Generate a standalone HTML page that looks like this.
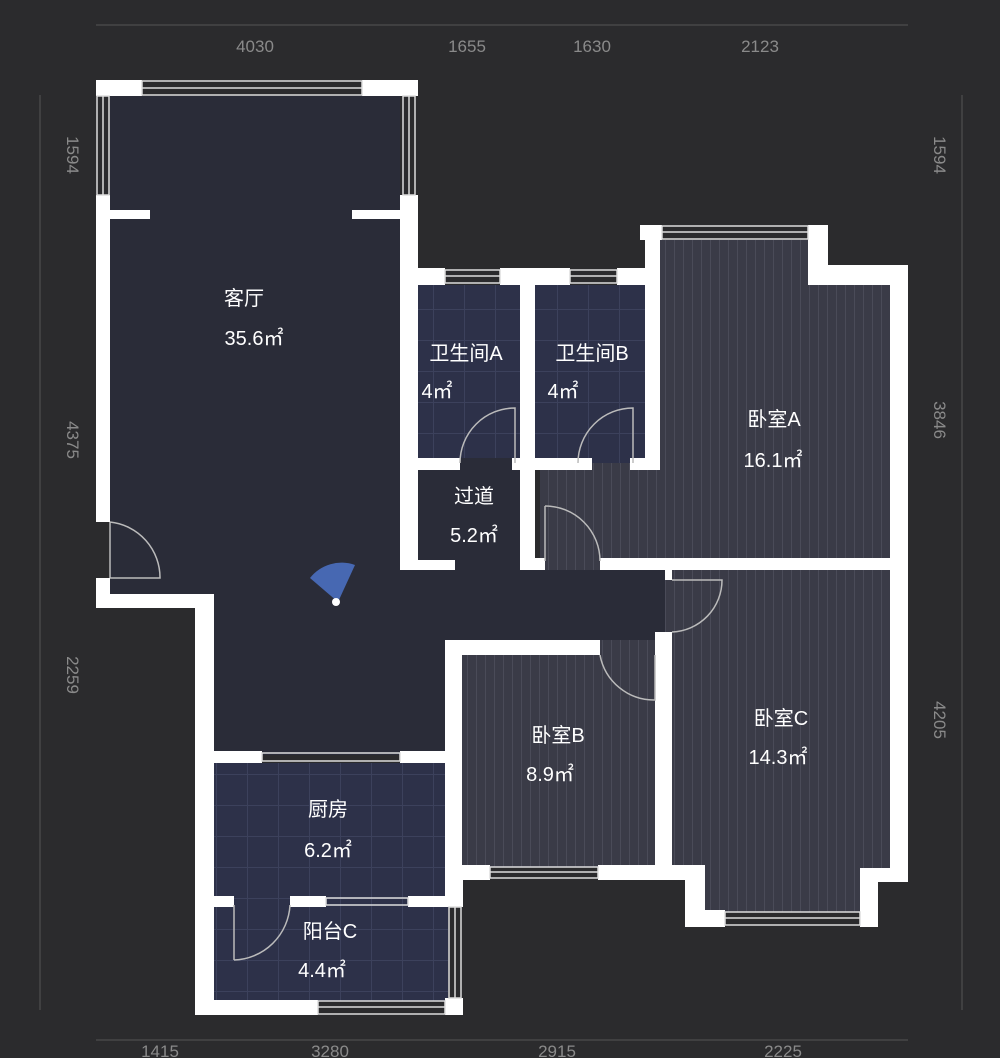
<!DOCTYPE html>
<html><head><meta charset="utf-8"><style>
html,body{margin:0;padding:0;background:#2b2b2d;}
svg{display:block}
text{font-family:"Liberation Sans","Noto Sans CJK SC",sans-serif;fill:#fff}
.dim{fill:#8a8a8a;font-size:17px}
</style></head><body>
<svg width="1000" height="1058" viewBox="0 0 1000 1058" xmlns="http://www.w3.org/2000/svg">
<defs>
<pattern id="stripe" width="9" height="40" patternUnits="userSpaceOnUse">
<rect width="9" height="40" fill="#3a3b47"/><rect x="8" width="1" height="40" fill="#4a4b58"/>
</pattern>
<pattern id="tile" width="31" height="31" patternUnits="userSpaceOnUse">
<rect width="31" height="31" fill="#2d3149"/><rect x="30" width="1" height="31" fill="#3c415c"/><rect y="30" width="31" height="1" fill="#3c415c"/>
</pattern>
</defs>
<rect width="1000" height="1058" fill="#2b2b2d"/>
<g stroke="#555" stroke-width="1">
<line x1="96" y1="25" x2="908" y2="25"/><line x1="96" y1="1040" x2="908" y2="1040"/>
<line x1="40" y1="95" x2="40" y2="1010"/><line x1="962" y1="95" x2="962" y2="1010"/>
</g>
<text class="dim" x="255" y="52" text-anchor="middle">4030</text>
<text class="dim" x="467" y="52" text-anchor="middle">1655</text>
<text class="dim" x="592" y="52" text-anchor="middle">1630</text>
<text class="dim" x="760" y="52" text-anchor="middle">2123</text>
<text class="dim" x="160" y="1057" text-anchor="middle">1415</text>
<text class="dim" x="330" y="1057" text-anchor="middle">3280</text>
<text class="dim" x="557" y="1057" text-anchor="middle">2915</text>
<text class="dim" x="783" y="1057" text-anchor="middle">2225</text>
<text class="dim" transform="translate(67,155) rotate(90)" text-anchor="middle">1594</text>
<text class="dim" transform="translate(67,440) rotate(90)" text-anchor="middle">4375</text>
<text class="dim" transform="translate(67,675) rotate(90)" text-anchor="middle">2259</text>
<text class="dim" transform="translate(934,155) rotate(90)" text-anchor="middle">1594</text>
<text class="dim" transform="translate(934,420) rotate(90)" text-anchor="middle">3846</text>
<text class="dim" transform="translate(934,720) rotate(90)" text-anchor="middle">4205</text>

<!-- floors -->
<polygon points="110,96 400,96 400,570 672,570 672,640 445,640 445,755 214,755 214,600 110,600" fill="#2a2c38"/>
<rect x="418" y="285" width="102" height="178" fill="url(#tile)"/>
<rect x="535" y="285" width="110" height="178" fill="url(#tile)"/>
<rect x="418" y="458" width="117" height="112" fill="#2a2c38"/>
<rect x="578" y="458" width="70" height="12" fill="url(#tile)"/>
<polygon points="660,240 808,240 808,285 890,285 890,570 540,570 540,463 660,463" fill="url(#stripe)"/>
<polygon points="665,570 890,570 890,868 862,868 862,912 705,912 705,870 665,870" fill="url(#stripe)"/>
<rect x="462" y="640" width="193" height="227" fill="url(#stripe)"/>
<rect x="214" y="763" width="231" height="133" fill="url(#tile)"/>
<rect x="214" y="896" width="234" height="105" fill="url(#tile)"/>

<g fill="#fff">
<rect x="96" y="80" width="46" height="16"/><rect x="362" y="80" width="56" height="16"/>
<rect x="96" y="195" width="14" height="327"/>
<rect x="110" y="210" width="40" height="9"/><rect x="352" y="210" width="48" height="9"/>
<rect x="400" y="195" width="18" height="372"/>
<rect x="96" y="578" width="14" height="30"/>
<rect x="96" y="594" width="118" height="14"/>
<rect x="195" y="594" width="19" height="421"/>
<rect x="195" y="1000" width="123" height="15"/>
<rect x="445" y="998" width="18" height="17"/>
<rect x="400" y="268" width="45" height="17"/><rect x="500" y="268" width="70" height="17"/><rect x="617" y="268" width="43" height="17"/>
<rect x="520" y="285" width="15" height="285"/>
<rect x="400" y="458" width="60" height="12"/><rect x="512" y="458" width="80" height="12"/><rect x="630" y="458" width="30" height="12"/>
<rect x="645" y="225" width="15" height="245"/>
<rect x="400" y="560" width="55" height="10"/>
<rect x="640" y="225" width="22" height="15"/><rect x="808" y="225" width="20" height="60"/>
<rect x="808" y="265" width="100" height="20"/>
<rect x="890" y="265" width="18" height="617"/>
<rect x="528" y="558" width="17" height="12"/>
<rect x="600" y="558" width="290" height="12"/>
<rect x="665" y="570" width="7" height="10"/>
<rect x="655" y="632" width="17" height="248"/>
<rect x="445" y="640" width="155" height="15"/>
<rect x="445" y="640" width="17" height="240"/>
<rect x="445" y="865" width="45" height="15"/><rect x="598" y="865" width="107" height="15"/>
<rect x="685" y="865" width="20" height="62"/>
<rect x="685" y="910" width="40" height="17"/>
<rect x="860" y="868" width="48" height="14"/>
<rect x="860" y="868" width="18" height="59"/>
<rect x="214" y="751" width="48" height="12"/><rect x="400" y="751" width="62" height="12"/>
<rect x="214" y="896" width="20" height="11"/><rect x="290" y="896" width="36" height="11"/><rect x="408" y="896" width="55" height="11"/>
<rect x="445" y="880" width="18" height="26"/>
</g>
<g fill="none" stroke="#ddd" stroke-width="1.5">
<rect x="142" y="81" width="220" height="14"/><line x1="142" y1="88" x2="362" y2="88"/>
<rect x="97" y="96" width="12" height="99"/><line x1="103" y1="96" x2="103" y2="195"/>
<rect x="403" y="96" width="12" height="99"/><line x1="409" y1="96" x2="409" y2="195"/>
<rect x="445" y="270" width="55" height="13"/><line x1="445" y1="276" x2="500" y2="276"/>
<rect x="570" y="270" width="47" height="13"/><line x1="570" y1="276" x2="617" y2="276"/>
<rect x="662" y="226" width="146" height="13"/><line x1="662" y1="232" x2="808" y2="232"/>
<rect x="490" y="867" width="108" height="11"/><line x1="490" y1="872" x2="598" y2="872"/>
<rect x="725" y="912" width="135" height="13"/><line x1="725" y1="918" x2="860" y2="918"/>
<rect x="318" y="1001" width="127" height="13"/><line x1="318" y1="1007" x2="445" y2="1007"/>
<rect x="449" y="907" width="12" height="91"/><line x1="455" y1="907" x2="455" y2="998"/>
<rect x="262" y="753" width="138" height="8"/>
<rect x="326" y="898" width="82" height="7"/>
</g>
<g fill="none" stroke="#bbb" stroke-width="1.5">
<path d="M110,522 A56,56 0 0 1 160,578 L110,578"/><line x1="110" y1="522" x2="110" y2="578"/>
<path d="M460,463 A55,55 0 0 1 515,408 L515,463"/>
<path d="M578,463 A55,55 0 0 1 633,408 L633,463"/>
<path d="M545,506 A55,55 0 0 1 600,561"/><line x1="545" y1="506" x2="545" y2="561"/>
<path d="M672,632 A52,52 0 0 0 722,580 L672,580"/>
<path d="M600,655 A55,55 0 0 0 655,700 L655,655"/>
<path d="M234,960 A58,58 0 0 0 290,905 M234,905 L234,960"/>
</g>
<path d="M338,602 L310,578 A40,40 0 0 1 355,565 Z" fill="#4a6fc0" opacity="0.9"/>
<circle cx="336" cy="602" r="4" fill="#fff"/>
<g font-size="20">
<text x="244" y="305" text-anchor="middle">客厅</text><text x="254" y="345" text-anchor="middle">35.6㎡</text>
<text x="466" y="360" text-anchor="middle">卫生间A</text><text x="437" y="398" text-anchor="middle">4㎡</text>
<text x="592" y="360" text-anchor="middle">卫生间B</text><text x="563" y="398" text-anchor="middle">4㎡</text>
<text x="474" y="503" text-anchor="middle">过道</text><text x="474" y="542" text-anchor="middle">5.2㎡</text>
<text x="774" y="426" text-anchor="middle">卧室A</text><text x="773" y="467" text-anchor="middle">16.1㎡</text>
<text x="558" y="742" text-anchor="middle">卧室B</text><text x="550" y="781" text-anchor="middle">8.9㎡</text>
<text x="781" y="725" text-anchor="middle">卧室C</text><text x="778" y="764" text-anchor="middle">14.3㎡</text>
<text x="328" y="816" text-anchor="middle">厨房</text><text x="328" y="857" text-anchor="middle">6.2㎡</text>
<text x="330" y="938" text-anchor="middle">阳台C</text><text x="322" y="977" text-anchor="middle">4.4㎡</text>
</g>
</svg>
</body></html>
